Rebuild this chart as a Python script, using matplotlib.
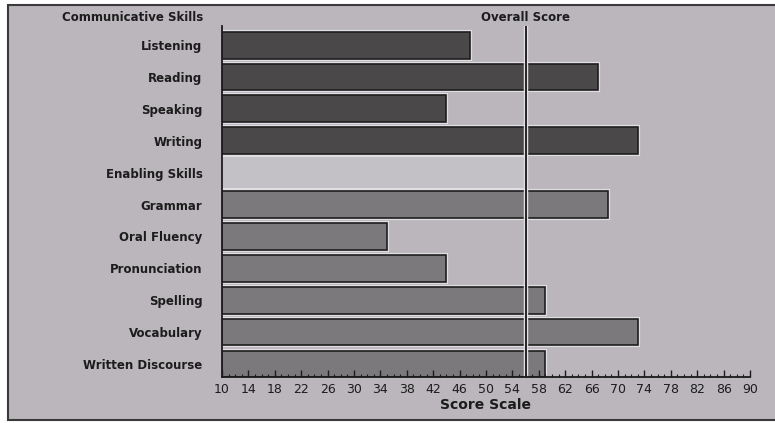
import matplotlib
matplotlib.use("Agg")
import matplotlib.pyplot as plt
from matplotlib.patches import Rectangle
from matplotlib.ticker import MultipleLocator, FixedLocator

# skill rows, top to bottom (Enabling Skills is a section header with no score)
skills = ['Listening', 'Reading', 'Speaking', 'Writing', 'Enabling Skills',
          'Grammar', 'Oral Fluency', 'Pronunciation', 'Spelling', 'Vocabulary',
          'Written Discourse']
scores = [47.5, 67, 44, 73, None, 68.5, 35, 44, 59, 73, 59]
groups = ['comm', 'comm', 'comm', 'comm', 'header',
          'enab', 'enab', 'enab', 'enab', 'enab', 'enab']
overall = 56
tick_values = list(range(10, 91, 4))

bg = '#bab6bb'
comm_col = '#4a4849'
enab_col = '#7b797c'
band_col = '#c4c1c6'

fig = plt.figure(figsize=(7.75, 4.23), dpi=100)
fig.patch.set_facecolor('white')
fig.patches.append(Rectangle((8 / 775, 3 / 423), 1.0, 1 - 8 / 423,
                             transform=fig.transFigure, facecolor=bg,
                             edgecolor='#3a3a3a', linewidth=1.5, zorder=-5))

ax = fig.add_axes([222 / 775, 1 - 377 / 423, 528 / 775, 351 / 423])
ax.set_facecolor(bg)
ax.patch.set_alpha(0)
ax.set_axisbelow(False)

ypos = list(range(len(skills)))
for y, s, g in zip(ypos, scores, groups):
    if g == 'header':
        ax.barh(y, overall - 10, left=10, height=1.05, color=band_col,
                edgecolor='#e6e4e8', linewidth=1.2, zorder=1)
        continue
    col = comm_col if g == 'comm' else enab_col
    ax.barh(y, s - 10, left=10, height=0.84, color='none',
            edgecolor='#e0dee2', linewidth=3, zorder=1.2)
    ax.barh(y, s - 10, left=10, height=0.84, color=col,
            edgecolor='#1e1e1e', linewidth=1.2, zorder=1.5)

ax.axvline(overall, color='#e2e0e4', linewidth=3.2, zorder=2)
ax.axvline(overall, color='#161616', linewidth=1.3, zorder=2.2)

ax.set_xlim(10, 90)
ax.set_ylim(10.41, -0.6)
ax.set_yticks(ypos)
ax.set_yticklabels(skills, fontsize=8.5, fontweight='bold', color='#1c1c1c')
ax.tick_params(axis='y', length=0, pad=14)

ax.xaxis.set_major_locator(FixedLocator(tick_values))
ax.xaxis.set_minor_locator(MultipleLocator(1))
ax.tick_params(axis='x', which='major', direction='in', length=5, width=1,
               labelsize=9, pad=4, colors='#1c1c1c')
ax.tick_params(axis='x', which='minor', direction='in', length=2.5, width=0.8,
               colors='#1c1c1c')
ax.set_xlabel('Score Scale', fontsize=10, fontweight='bold', color='#1c1c1c',
              labelpad=2)

for side in ['top', 'right']:
    ax.spines[side].set_visible(False)
ax.spines['left'].set_color('#1c1c1c')
ax.spines['left'].set_linewidth(1.3)
ax.spines['bottom'].set_color('#1c1c1c')
ax.spines['bottom'].set_linewidth(1.3)

ax.text(-19 / 528, -0.88, 'Communicative Skills', transform=ax.get_yaxis_transform(),
        ha='right', va='center', fontsize=8.5, fontweight='bold', color='#1c1c1c',
        clip_on=False)
ax.text(overall, -0.88, 'Overall Score', ha='center', va='center', fontsize=8.5,
        fontweight='bold', color='#1c1c1c', clip_on=False)

fig.savefig('out.png', dpi=100, facecolor=fig.get_facecolor())
